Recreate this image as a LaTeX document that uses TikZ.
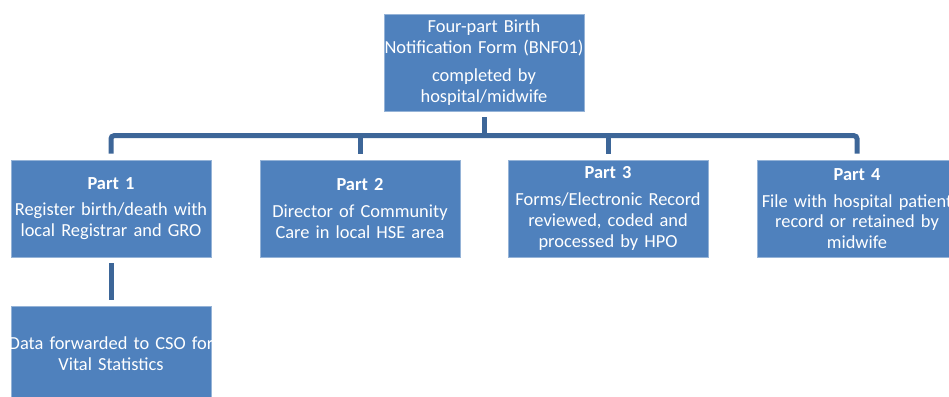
\documentclass[tikz,border=0pt]{standalone}
\usepackage{fontspec}
\setmainfont{Carlito}
\definecolor{boxblue}{HTML}{4F81BD}
\definecolor{linkblue}{HTML}{3D6698}
\tikzset{
  box/.style={fill=boxblue, draw=boxblue!60!white, line width=0.6pt,
    minimum width=200pt, minimum height=97pt, inner sep=0pt,
    text=white, align=center, text width=196pt,
    font=\fontsize{18.4}{20.8}\selectfont},
  link/.style={draw=linkblue, line width=5pt, rounded corners=3pt}
}
\newcommand{\wide}[1]{\makebox[196pt]{#1}}
\begin{document}
\begin{tikzpicture}[x=1pt,y=-1pt]
\useasboundingbox (0,0) rectangle (949,396);
\node[box] (top) at (484,62.5) {\wide{Four-part Birth}\\\wide{Notification Form (BNF01)}\\[7pt]\wide{completed by}\\\wide{hospital/midwife}};
\node[box] (p1) at (111,208.5) {\textbf{Part 1}\\[6pt]\wide{Register birth/death with}\\\wide{local Registrar and GRO}};
\node[box] (p2) at (360,208.5) {\textbf{Part 2}\\[6pt]\wide{Director of Community}\\\wide{Care in local HSE area}};
\node[box] (p3) at (608,208.5) {\textbf{Part 3}\\[6pt]\wide{Forms/Electronic Record}\\\wide{reviewed, coded and}\\\wide{processed by HPO}};
\node[box] (p4) at (857,208.5) {\textbf{Part 4}\\[6pt]\wide{File with hospital patient}\\\wide{record or retained by}\\\wide{midwife}};
\node[box, minimum height=96pt] (data) at (111,354) {\wide{Data forwarded to CSO for}\\\wide{Vital Statistics}};
\draw[link] ([yshift=-6pt]top.south) -- ([yshift=-25pt]top.south);
\draw[link] ([yshift=6pt]p1.north) |- ([yshift=24pt]p4.north) -- ([yshift=6pt]p4.north);
\draw[link] ([yshift=6pt]p2.north) -- ([yshift=24pt]p2.north);
\draw[link] ([yshift=6pt]p3.north) -- ([yshift=24pt]p3.north);
\draw[link] ([yshift=-6pt]p1.south) -- ([yshift=6pt]data.north);
\end{tikzpicture}
\end{document}
